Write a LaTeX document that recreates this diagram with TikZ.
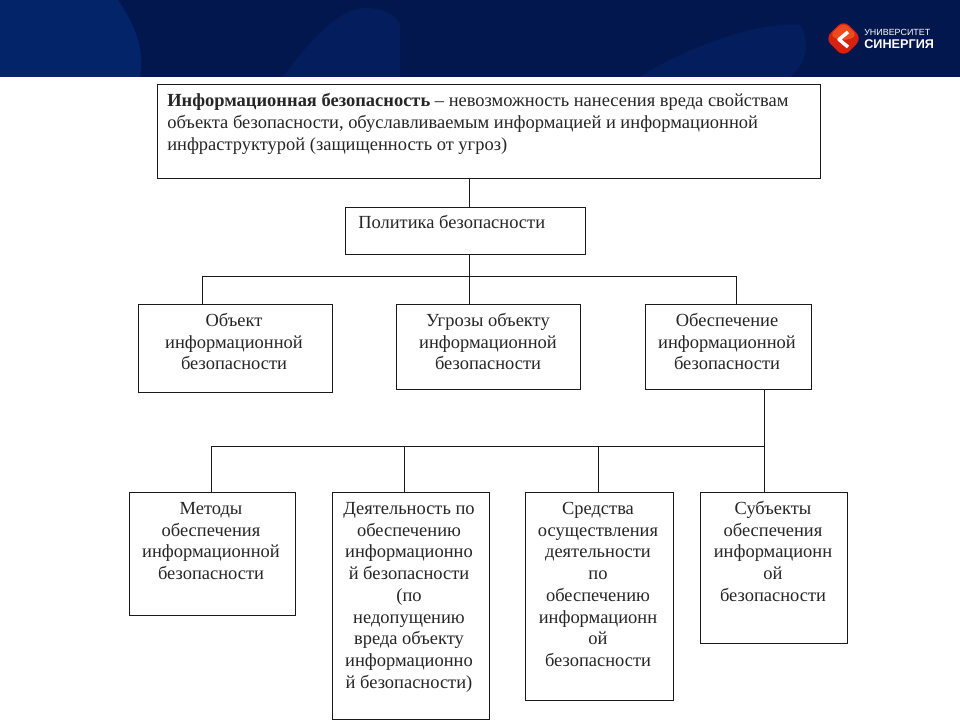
\documentclass[tikz,border=0pt]{standalone}
\usepackage{fontspec}
\setmainfont{Liberation Serif}
\usetikzlibrary{calc}
\definecolor{bannerdark}{HTML}{03174F}
\definecolor{bannerblue}{HTML}{04246A}
\definecolor{bannermid}{HTML}{041D5C}
\definecolor{linecol}{HTML}{1A1A1A}
\definecolor{logored}{HTML}{D5230F}
\definecolor{logoorange}{HTML}{EE4A1E}
\tikzset{
  x=0.75pt,y=-0.75pt,
  boxed/.style={draw=linecol,line width=0.8pt,fill=white,inner sep=0pt},
  wire/.style={draw=linecol,line width=0.7pt},
  lbl/.style={inner sep=0pt,align=center,font=\fontsize{13.85pt}{16.3pt}\selectfont,text=black!85,anchor=north,execute at begin node={\rule{0pt}{10pt}}},
  lbll/.style={inner sep=0pt,align=left,font=\fontsize{13.85pt}{16.5pt}\selectfont,text=black!85,anchor=north west,execute at begin node={\rule{0pt}{10pt}}},
}
\newcommand{\bx}[5]{\node[boxed,minimum width=#4*0.75pt,minimum height=#5*0.75pt,anchor=north west] (#1) at (#2,#3) {};}
\begin{document}
\begin{tikzpicture}
\useasboundingbox (0,0) rectangle (960,720);
\fill[white] (0,0) rectangle (960,720);
% banner
\fill[bannerdark] (0,0) rectangle (960,77);
\fill[bannerblue] (0,0) -- (118,0) .. controls (135,25) and (145,50) .. (140,77) -- (0,77) -- cycle;
\fill[bannermid] (283,77) .. controls (310,40) and (340,8) .. (365,8) .. controls (385,8) and (395,15) .. (400,25) -- (400,77) -- cycle;
\fill[bannermid] (640,77) .. controls (680,50) and (760,20) .. (800,25) .. controls (812,45) and (805,65) .. (790,77) -- cycle;
% logo
\fill[logored,rounded corners=6pt] (843.5,20) -- (862,38.5) -- (843.5,57) -- (825,38.5) -- cycle;
\fill[logoorange,rounded corners=5pt] (843.5,22) -- (858,36) -- (843.5,41) -- (829,36) -- cycle;
\draw[white,line width=2.6pt,line join=round] (848,32) -- (839,39.5) -- (848,47);
\node[inner sep=0pt,anchor=west,text=white,font=\fontsize{6.7pt}{7pt}\fontspec{Liberation Sans}] (logoa) at (864,32) {УНИВЕРСИТЕТ};
\node[inner sep=0pt,anchor=west,text=white,font=\fontsize{9.5pt}{10pt}\fontspec{Liberation Sans}\bfseries] (logob) at (864,44) {СИНЕРГИЯ};
% boxes
\bx{top}{157}{84}{663}{94}
\bx{pol}{345}{207}{240}{47}
\bx{obj}{138}{304}{194}{88}
\bx{thr}{396}{304}{184}{85}
\bx{pro}{645}{304}{166}{85}
\bx{met}{129}{492}{166}{123}
\bx{act}{332}{492}{157}{227}
\bx{tool}{525}{492}{148}{208}
\bx{sub}{700}{492}{147}{151}
% connectors
\coordinate (a1) at (469.7,178);
\coordinate (a2) at (469.7,207);
\coordinate (a3) at (469.7,254);
\coordinate (a4) at (469.7,304);
\coordinate (b1) at (202.7,276);
\coordinate (b2) at (202.7,304);
\coordinate (c1) at (736.7,276);
\coordinate (c2) at (736.7,304);
\draw[wire] (a1) -- (a2);
\draw[wire] (a3) -- (a4);
\draw[wire] (b2) -- (b1) -- (c1) -- (c2);
\coordinate (d1) at (764.7,389);
\coordinate (bus2) at (764.7,446);
\coordinate (d2) at (764.7,492);
\coordinate (e1) at (211.7,446);
\coordinate (e2) at (211.7,492);
\coordinate (f1) at (404.7,446);
\coordinate (f2) at (404.7,492);
\coordinate (g1) at (598.7,446);
\coordinate (g2) at (598.7,492);
\draw[wire] (d1) -- (d2);
\draw[wire] (e2) -- (e1) -- (bus2);
\draw[wire] (f1) -- (f2);
\draw[wire] (g1) -- (g2);
% labels
\node[lbll] (ttop) at (167,93) {\textbf{Информационная безопасность} – невозможность нанесения вреда свойствам\\объекта безопасности, обуславливаемым информацией и информационной\\инфраструктурой (защищенность от угроз)};
\node[lbll] (tpol) at (358,215) {Политика безопасности};
\node[lbl] (tobj) at (234,313) {Объект\\информационной\\безопасности};
\node[lbl] (tthr) at (488,313) {Угрозы объекту\\информационной\\безопасности};
\node[lbl] (tpro) at (727,313) {Обеспечение\\информационной\\безопасности};
\node[lbl] (tmet) at (211,502) {Методы\\обеспечения\\информационной\\безопасности};
\node[lbl] (tact) at (409,502) {Деятельность по\\обеспечению\\информационно\\й безопасности\\(по\\недопущению\\вреда объекту\\информационно\\й безопасности)};
\node[lbl] (ttool) at (598,502) {Средства\\осуществления\\деятельности\\по\\обеспечению\\информационн\\ой\\безопасности};
\node[lbl] (tsub) at (773,501) {Субъекты\\обеспечения\\информационн\\ой\\безопасности};
\end{tikzpicture}
\end{document}
